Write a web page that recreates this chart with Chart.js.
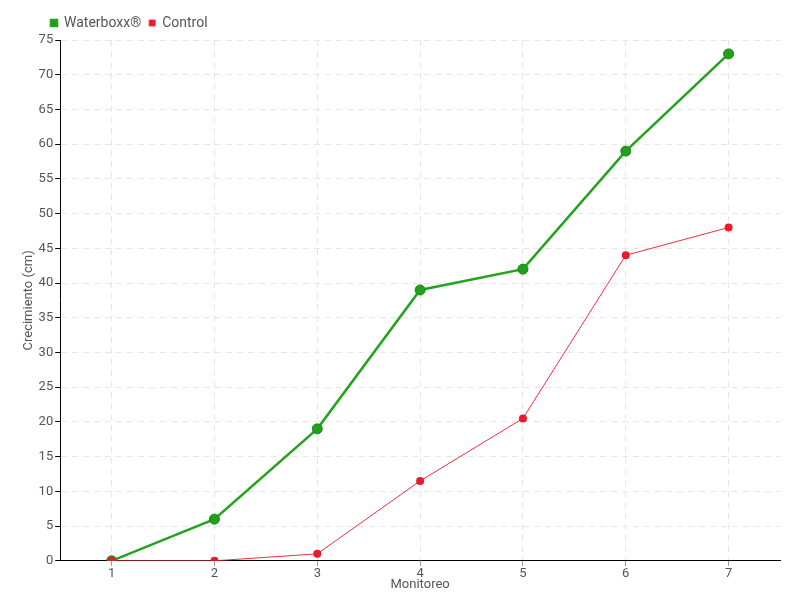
<!DOCTYPE html>
<html>
<head>
<meta charset="utf-8">
<script src="https://cdn.jsdelivr.net/npm/chart.js@4/dist/chart.umd.min.js"></script>
<style>
  html, body { margin: 0; padding: 0; background: #fff; }
  #wrap { width: 800px; height: 600px; }
</style>
</head>
<body>
<div id="wrap"><canvas id="chart" width="800" height="600"></canvas></div>
<script>
// Monitoring rounds and growth (cm)
const monitoreos = ['1', '2', '3', '4', '5', '6', '7'];
const waterboxx = [0, 6, 19, 39, 42, 59, 73];
const control = [0, 0, 1, 11.5, 20.5, 44, 48];

const FONT = 'Roboto, sans-serif';
Chart.defaults.font.family = FONT;
Chart.defaults.color = '#555';

// nudge the legend to the right, like the original
const legendShift = {
    id: 'legendShift',
    afterLayout(chart) {
        chart.legend.left += 27;
    }
};

const ctx = document.getElementById('chart').getContext('2d');
new Chart(ctx, {
    type: 'line',
    data: {
        labels: monitoreos,
        datasets: [{
            label: 'Waterboxx®',
            data: waterboxx,
            order: 1,
            borderColor: '#25a21e',
            backgroundColor: '#1f9a1a',
            borderWidth: 2.5,
            pointRadius: 5,
            pointBorderColor: '#178a14',
            pointBorderWidth: 1,
            pointBackgroundColor: '#22a01c',
            tension: 0
        }, {
            label: 'Control',
            data: control,
            order: 0,
            borderColor: '#f0303e',
            backgroundColor: '#e81a2c',
            borderWidth: 1,
            pointRadius: 4,
            pointBorderWidth: 0,
            pointBackgroundColor: '#e81a2c',
            tension: 0
        }]
    },
    options: {
        responsive: false,
        animation: false,
        layout: { padding: { left: 16, right: 20, top: 8, bottom: 7 } },
        plugins: {
            legend: {
                align: 'start',
                labels: {
                    boxWidth: 6,
                    boxHeight: 6,
                    padding: 8,
                    color: '#555',
                    font: { size: 14 },
                    sort: (a, b) => a.datasetIndex - b.datasetIndex
                }
            },
            tooltip: { enabled: false }
        },
        scales: {
            x: {
                offset: true,
                grid: {
                    offset: false,
                    color: '#e6e6e6',
                    tickColor: '#999',
                    tickLength: 5
                },
                border: { display: true, color: '#000', width: 1, dash: [6, 5] },
                ticks: { font: { size: 13 }, color: '#555', padding: 0 },
                title: {
                    display: true,
                    text: 'Monitoreo',
                    font: { size: 13 },
                    color: '#555',
                    padding: { top: -4, bottom: 0 }
                }
            },
            y: {
                min: 0,
                max: 75,
                ticks: { stepSize: 5, font: { size: 13 }, color: '#555', padding: 2 },
                grid: {
                    color: '#e6e6e6',
                    tickColor: '#000',
                    tickLength: 5
                },
                border: { display: true, color: '#000', width: 1, dash: [6, 5] },
                title: {
                    display: true,
                    text: 'Crecimiento (cm)',
                    font: { size: 13 },
                    color: '#555',
                    padding: { top: 5, bottom: 0 }
                }
            }
        }
    },
    plugins: [legendShift]
});
</script>
</body>
</html>
